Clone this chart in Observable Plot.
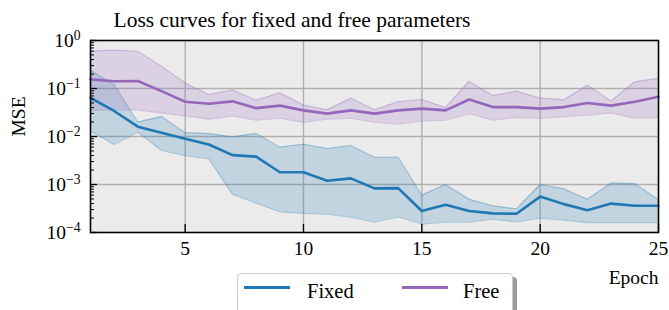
<!DOCTYPE html>
<html><head><meta charset="utf-8">
<script src="https://cdn.jsdelivr.net/npm/d3@7"></script>
<script src="https://cdn.jsdelivr.net/npm/@observablehq/plot@0.6"></script>
<style>
body{margin:0;background:#fff;}
#fig{position:relative;width:669px;height:310px;font-family:'Liberation Serif',serif;overflow:hidden;background:#fff}
#title{position:absolute;left:0;top:2px;width:584px;text-align:center;font-size:21.5px;line-height:36px;height:32px;color:#000}
#chart{position:absolute;left:0;top:32px}
#legend{position:absolute;left:237px;top:273px;width:274px;height:40px;border:1px solid #ccc;border-radius:4px;background:#fff;box-shadow:4px 4px 0 #999;font-size:20.5px}
.item{position:absolute;top:4px;height:26px;line-height:26px}
.swatch{position:absolute;top:12px;width:46px;height:3px}
</style></head>
<body>
<div id="fig">
  <div id="title">Loss curves for fixed and free parameters</div>
  <div id="chart"></div>
  <div id="legend"></div>
</div>
<script>
const epochs = [1,2,3,4,5,6,7,8,9,10,11,12,13,14,15,16,17,18,19,20,21,22,23,24,25];
const fixedMean = [0.064,0.034,0.016,0.012,0.009,0.0068,0.0041,0.0038,0.0018,0.0018,0.0012,0.00134,0.00083,0.00084,0.00028,0.00038,0.00028,0.00025,0.000245,0.00056,0.00039,0.00029,0.0004,0.00036,0.00036];
const fixedHi = [0.24,0.12,0.02,0.026,0.012,0.0115,0.0098,0.0116,0.006,0.0069,0.0056,0.0065,0.0037,0.0037,0.0006,0.001,0.00049,0.00036,0.00031,0.001,0.00081,0.00049,0.00107,0.00104,0.00048];
const fixedLo = [0.013,0.0068,0.0123,0.0051,0.004,0.0034,0.00063,0.00041,0.00027,0.00025,0.00024,0.00021,0.000165,0.00021,0.00015,0.000165,0.000165,0.00019,0.000167,0.0002,0.00018,0.00016,0.00016,0.00016,0.00016];
const freeMean = [0.155,0.142,0.143,0.088,0.053,0.048,0.054,0.039,0.044,0.035,0.030,0.035,0.030,0.035,0.038,0.035,0.059,0.041,0.041,0.038,0.041,0.050,0.044,0.053,0.067];
const freeHi = [0.6,0.63,0.59,0.29,0.13,0.075,0.093,0.057,0.081,0.045,0.036,0.063,0.036,0.053,0.059,0.040,0.142,0.071,0.088,0.063,0.058,0.117,0.055,0.138,0.162];
const freeLo = [0.035,0.036,0.036,0.031,0.027,0.023,0.027,0.022,0.024,0.020,0.023,0.024,0.020,0.018,0.021,0.022,0.030,0.022,0.025,0.024,0.026,0.028,0.031,0.024,0.025];
const seriesNames = ["Fixed","Free"];
const seriesColors = ["#1f77b4","#9467bd"];
const xTicks = [5,10,15,20,25];
const xGrid = [5,10,15,20];
const yTicks = [1e-4,1e-3,1e-2,1e-1,1];
const yGrid = [1e-3,1e-2,1e-1];
const yMinor = [];
for (const t of [1e-4,1e-3,1e-2,1e-1]) for (let m=2;m<=9;m++) yMinor.push(t*m);
const xLabel = "Epoch", yLabel = "MSE";

const mk = (mean, lo, hi) => epochs.map((e,i)=>({epoch:e, mean:mean[i], lo:lo[i], hi:hi[i]}));
const series = [mk(fixedMean, fixedLo, fixedHi), mk(freeMean, freeLo, freeHi)];

const marks = [Plot.frame({fill:"#ebebeb", stroke:null}),
  Plot.ruleY(yGrid, {stroke:"#b0b0b0", strokeWidth:1.4}),
  Plot.ruleX(xGrid, {stroke:"#b0b0b0", strokeWidth:1.4})];
series.forEach((rows, s) => {
  const c = seriesColors[s];
  marks.push(Plot.areaY(rows, {x:"epoch", y1:"lo", y2:"hi", fill:c, fillOpacity:0.2}));
  marks.push(Plot.lineY(rows, {x:"epoch", y:"lo", stroke:c, strokeOpacity:0.3, strokeWidth:1.2}));
  marks.push(Plot.lineY(rows, {x:"epoch", y:"hi", stroke:c, strokeOpacity:0.3, strokeWidth:1.2}));
});
series.forEach((rows, s) => {
  marks.push(Plot.lineY(rows, {x:"epoch", y:"mean", stroke:seriesColors[s], strokeWidth:2.6}));
});
marks.push(
  Plot.frame({stroke:"#000", strokeWidth:1.6}),
  Plot.axisY(yMinor, {anchor:"left", tickSize:4, dx:4, fill:"none", stroke:"#000", strokeWidth:1, label:null}),
  Plot.axisY(yTicks, {anchor:"left", tickSize:7, dx:7, tickPadding:10, stroke:"#000", strokeWidth:1.3, fill:"#000", fontSize:19.5, tickFormat: d => String(Math.round(Math.log10(d))), label:null}),
  Plot.axisX(xTicks, {anchor:"bottom", tickSize:8, dy:-8, tickPadding:9, stroke:"#000", strokeWidth:1.3, fill:"#000", fontSize:19.5, tickFormat: d => String(d), label:null}),
  Plot.text([yLabel], {frameAnchor:"left", dx:-72, rotate:-90, fontSize:19.5, fill:"#000"}),
  Plot.text([xLabel], {frameAnchor:"bottom-right", dy:45, textAnchor:"end", lineAnchor:"middle", fontSize:19.5, fill:"#000"})
);

const plot = Plot.plot({
  width: 669, height: 278,
  marginTop: 8, marginBottom: 78, marginLeft: 90, marginRight: 11,
  style: {fontFamily: "'Liberation Serif', serif", background: "transparent", overflow: "visible"},
  x: {domain: [1, 25]},
  y: {type: "log", domain: [1e-4, 1]},
  marks
});
document.getElementById("chart").appendChild(plot);

// render y tick labels as 10 with superscript exponent
d3.select(plot).selectAll('g[aria-label="y-axis tick label"] text').each(function() {
  const exp = this.textContent.replace("-", "\u2212");
  const t = d3.select(this);
  t.text(null);
  t.append("tspan").text("10");
  t.append("tspan").attr("dy", "-0.5em").attr("font-size", "70%").text(exp);
});

// legend
const legend = document.getElementById("legend");
const pos = [[6, 69], [164, 225]];
seriesNames.forEach((n, i) => {
  const sw = document.createElement("div");
  sw.className = "swatch"; sw.style.left = pos[i][0] + "px"; sw.style.background = seriesColors[i];
  legend.appendChild(sw);
  const it = document.createElement("div");
  it.className = "item"; it.style.left = pos[i][1] + "px"; it.textContent = n;
  legend.appendChild(it);
});
</script>
</body></html>
